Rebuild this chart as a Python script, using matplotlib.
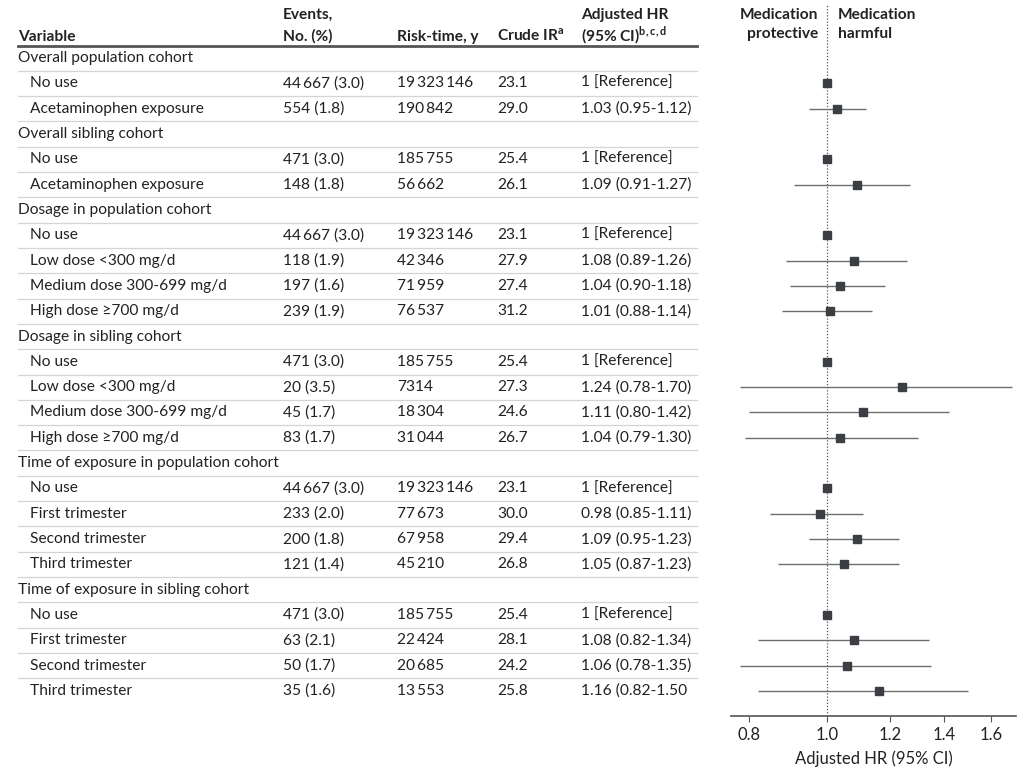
import numpy as np
import matplotlib.pyplot as plt
from matplotlib.ticker import FixedLocator, NullLocator

plt.rcParams['font.family'] = ['Lato', 'DejaVu Sans']

# table rows
labels = ['Overall population cohort', 'No use', 'Acetaminophen exposure',
          'Overall sibling cohort', 'No use', 'Acetaminophen exposure',
          'Dosage in population cohort', 'No use', 'Low dose <300 mg/d',
          'Medium dose 300-699 mg/d', 'High dose ≥700 mg/d',
          'Dosage in sibling cohort', 'No use', 'Low dose <300 mg/d',
          'Medium dose 300-699 mg/d', 'High dose ≥700 mg/d',
          'Time of exposure in population cohort', 'No use', 'First trimester',
          'Second trimester', 'Third trimester',
          'Time of exposure in sibling cohort', 'No use', 'First trimester',
          'Second trimester', 'Third trimester']
is_group = [True, False, False, True, False, False, True, False, False, False, False,
            True, False, False, False, False, True, False, False, False, False,
            True, False, False, False, False]

ts = '\u2009'
events = ['', f'44{ts}667 (3.0)', '554 (1.8)',
          '', '471 (3.0)', '148 (1.8)',
          '', f'44{ts}667 (3.0)', '118 (1.9)', '197 (1.6)', '239 (1.9)',
          '', '471 (3.0)', '20 (3.5)', '45 (1.7)', '83 (1.7)',
          '', f'44{ts}667 (3.0)', '233 (2.0)', '200 (1.8)', '121 (1.4)',
          '', '471 (3.0)', '63 (2.1)', '50 (1.7)', '35 (1.6)']
risk_time = ['', f'19{ts}323{ts}146', f'190{ts}842',
             '', f'185{ts}755', f'56{ts}662',
             '', f'19{ts}323{ts}146', f'42{ts}346', f'71{ts}959', f'76{ts}537',
             '', f'185{ts}755', '7314', f'18{ts}304', f'31{ts}044',
             '', f'19{ts}323{ts}146', f'77{ts}673', f'67{ts}958', f'45{ts}210',
             '', f'185{ts}755', f'22{ts}424', f'20{ts}685', f'13{ts}553']
crude_ir = ['', '23.1', '29.0', '', '25.4', '26.1',
            '', '23.1', '27.9', '27.4', '31.2',
            '', '25.4', '27.3', '24.6', '26.7',
            '', '23.1', '30.0', '29.4', '26.8',
            '', '25.4', '28.1', '24.2', '25.8']
hr_text = ['', '1 [Reference]', '1.03 (0.95-1.12)',
           '', '1 [Reference]', '1.09 (0.91-1.27)',
           '', '1 [Reference]', '1.08 (0.89-1.26)', '1.04 (0.90-1.18)', '1.01 (0.88-1.14)',
           '', '1 [Reference]', '1.24 (0.78-1.70)', '1.11 (0.80-1.42)', '1.04 (0.79-1.30)',
           '', '1 [Reference]', '0.98 (0.85-1.11)', '1.09 (0.95-1.23)', '1.05 (0.87-1.23)',
           '', '1 [Reference]', '1.08 (0.82-1.34)', '1.06 (0.78-1.35)', '1.16 (0.82-1.50']
hr = [np.nan, 1.00, 1.03, np.nan, 1.00, 1.09,
      np.nan, 1.00, 1.08, 1.04, 1.01,
      np.nan, 1.00, 1.24, 1.11, 1.04,
      np.nan, 1.00, 0.98, 1.09, 1.05,
      np.nan, 1.00, 1.08, 1.06, 1.16]
lo = [np.nan, np.nan, 0.95, np.nan, np.nan, 0.91,
      np.nan, np.nan, 0.89, 0.90, 0.88,
      np.nan, np.nan, 0.78, 0.80, 0.79,
      np.nan, np.nan, 0.85, 0.95, 0.87,
      np.nan, np.nan, 0.82, 0.78, 0.82]
hi = [np.nan, np.nan, 1.12, np.nan, np.nan, 1.27,
      np.nan, np.nan, 1.26, 1.18, 1.14,
      np.nan, np.nan, 1.70, 1.42, 1.30,
      np.nan, np.nan, 1.11, 1.23, 1.23,
      np.nan, np.nan, 1.34, 1.35, 1.50]

W, H = 1024, 778
fig = plt.figure(figsize=(W / 100, H / 100), dpi=100)

# table axes in pixel coordinates
tab = fig.add_axes([0, 0, 1, 1])
tab.set_xlim(0, W)
tab.set_ylim(H, 0)
tab.axis('off')

row0, step = 58, 25.32
n = len(labels)
row_y = [row0 + i * step for i in range(n)]
fs = 11.2
txt = '#222222'
cols = [283, 397, 497, 581]

# header, one line at a time
b1, b2 = 19, 41
def head(x, y, s, **kw):
    tab.text(x, y, s, fontsize=fs, fontweight='bold', color=txt, va='baseline', **kw)

head(18, b2, 'Variable')
head(cols[0], b1, 'Events,')
head(cols[0], b2, 'No. (%)')
head(cols[1], b2, 'Risk-time, y')
head(cols[2], b2, 'Crude IR$^{\\mathregular{a}}$')
head(cols[3], b1, 'Adjusted HR')
head(cols[3], b2, '(95% CI)$^{\\mathregular{b,c,d}}$')
tab.plot([18, 697], [46, 46], color='#555555', lw=2)

for i in range(n):
    y = row_y[i]
    x = 18 if is_group[i] else 30
    tab.text(x, y, labels[i], fontsize=fs, color=txt, va='center')
    tab.text(cols[0], y, events[i], fontsize=fs, color=txt, va='center')
    tab.text(cols[1], y, risk_time[i], fontsize=fs, color=txt, va='center')
    tab.text(cols[2], y, crude_ir[i], fontsize=fs, color=txt, va='center')
    tab.text(cols[3], y, hr_text[i], fontsize=fs, color=txt, va='center')
    if i < n - 1:
        tab.plot([18, 697], [y + step / 2] * 2, color='#d4d4d4', lw=0.9)

# forest axes
bottom_px, top_px = 716, 5
ax = fig.add_axes([731 / W, 1 - bottom_px / H, (1016 - 731) / W, (bottom_px - top_px) / H])
ax.set_xscale('log')
ax.set_xlim(0.76, 1.72)
ax.set_ylim((bottom_px - row0) / step, (top_px - row0) / step)
ax.patch.set_alpha(0)
for s in ['top', 'right', 'left']:
    ax.spines[s].set_visible(False)
ax.spines['bottom'].set_color('#555555')
ax.spines['bottom'].set_linewidth(1.2)
ax.xaxis.set_major_locator(FixedLocator([0.8, 1.0, 1.2, 1.4, 1.6]))
ax.xaxis.set_minor_locator(NullLocator())
ax.set_xticklabels(['0.8', '1.0', '1.2', '1.4', '1.6'], fontsize=12, color=txt)
ax.tick_params(axis='x', length=4, color='#555555', pad=4)
ax.set_yticks([])
ax.set_xlabel('Adjusted HR (95% CI)', fontsize=12, color=txt, labelpad=5)

ax.axvline(1.0, color='#555555', lw=0.9, ls=(0, (1, 1.5)))
idx = np.arange(n)
hr_a, lo_a, hi_a = np.array(hr), np.array(lo), np.array(hi)
ax.hlines(idx, lo_a, hi_a, color='#6e6e6e', lw=1.0)
ax.plot(hr_a, idx, 's', color='#3b3e42', ms=5.8, ls='none')

head(818, b1, 'Medication', ha='right')
head(818, 38, 'protective', ha='right')
head(838, b1, 'Medication', ha='left')
head(838, 38, 'harmful', ha='left')

fig.savefig('out.png', dpi=100)
